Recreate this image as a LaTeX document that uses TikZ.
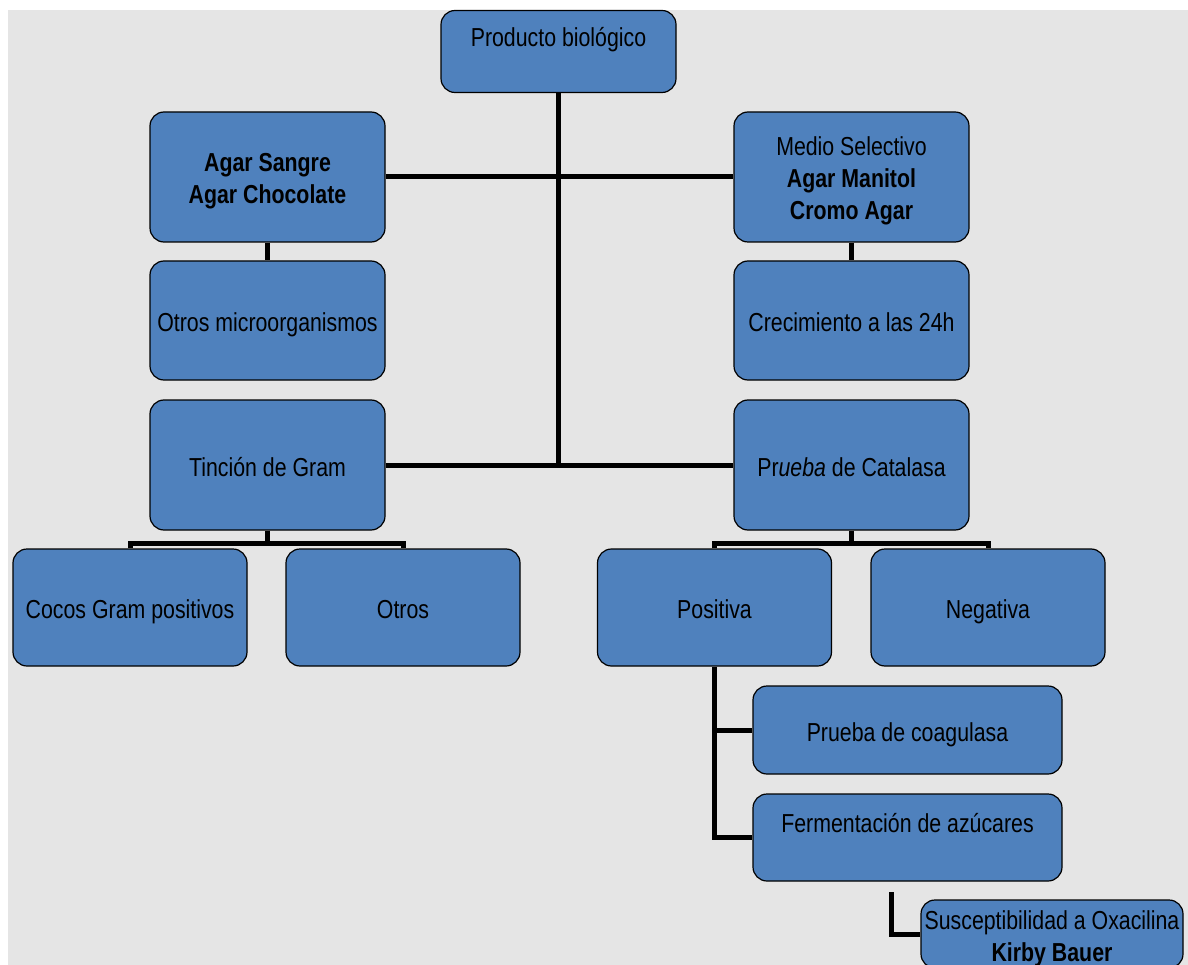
\documentclass[tikz,border=0pt]{standalone}
\usepackage{fontspec}
\setmainfont[FakeStretch=0.82]{Liberation Sans}
\definecolor{boxblue}{HTML}{4F81BD}
\definecolor{bggray}{HTML}{E5E5E5}
\newcommand\hstrut{\rule{0pt}{28pt}}
\newcommand\dstrut{\rule[-6pt]{0pt}{6pt}}
\newcommand\tx[1]{\hstrut#1\dstrut}
\tikzset{
  box/.style={draw=black, line width=1.2pt, fill=boxblue, rounded corners=14pt,
    align=center, inner sep=0pt, minimum width=235pt, font=\fontsize{26}{32}\selectfont},
  conn/.style={draw=black, line width=5pt}
}
\begin{document}
\begin{tikzpicture}[x=1pt,y=-1pt]
\useasboundingbox (0,0) rectangle (1188,965);
\fill[white] (0,0) rectangle (1188,965);
\fill[bggray] (8,10) rectangle (1188,965);
\clip (0,0) rectangle (1188,965);
% nodes
\node[box, minimum height=82pt] (prod) at (558.5,51.5) {\tx{Producto biológico\\ \phantom{X}}};
\node[box, minimum height=130pt] (agar) at (267.5,177) {\tx{\textbf{Agar Sangre}\\ \textbf{Agar Chocolate}}};
\node[box, minimum height=130pt] (medio) at (851.5,177) {\tx{Medio Selectivo\\ \textbf{Agar Manitol}\\ \textbf{Cromo Agar}}};
\node[box, minimum height=119pt] (otros1) at (267.5,320.5) {\tx{Otros microorganismos}};
\node[box, minimum height=119pt] (crec) at (851.5,320.5) {\tx{Crecimiento a las 24h}};
\node[box, minimum height=130pt] (tincion) at (267.5,465) {\tx{Tinción de Gram}};
\node[box, minimum height=130pt] (cata) at (851.5,465) {\tx{Pr\textit{ueba} de Catalasa}};
\node[box, minimum height=117pt, minimum width=234pt] (cocos) at (130,607.5) {\tx{Cocos Gram positivos}};
\node[box, minimum height=117pt, minimum width=234pt] (otros2) at (403,607.5) {\tx{Otros}};
\node[box, minimum height=117pt, minimum width=234pt] (pos) at (714.5,607.5) {\tx{Positiva}};
\node[box, minimum height=117pt, minimum width=234pt] (neg) at (988,607.5) {\tx{Negativa}};
\node[box, minimum height=88pt, minimum width=309pt] (coag) at (907.5,730) {\tx{Prueba de coagulasa}};
\node[box, minimum height=87pt, minimum width=309pt] (ferm) at (907.5,837.5) {\tx{Fermentación de azúcares\\ \phantom{X}}};
\node[box, minimum height=68pt, minimum width=262pt] (susc) at (1052,934) {\tx{Susceptibilidad a Oxacilina\\ \textbf{Kirby Bauer}}};
% helper coordinates
\coordinate (trunkend) at (558.5,465);
\coordinate (tb) at (267.5,543);
\coordinate (cb) at (851.5,543);
\coordinate (fs) at (891,892);
% connectors
\draw[conn] (prod.south) -- (trunkend);
\draw[conn] (agar.east) -- (medio.west);
\draw[conn] (tincion.east) -- (cata.west);
\draw[conn] (agar.south) -- (otros1.north);
\draw[conn] (medio.south) -- (crec.north);
\draw[conn] (tincion.south) -- (tb);
\draw[conn] (cocos.north) |- (tb) -| (otros2.north);
\draw[conn] (cata.south) -- (cb);
\draw[conn] (pos.north) |- (cb) -| (neg.north);
\draw[conn] (pos.south) |- (ferm.west);
\draw[conn] (pos.south |- coag.west) -- (coag.west);
\draw[conn] (fs) |- (susc.west);
\end{tikzpicture}
\end{document}
